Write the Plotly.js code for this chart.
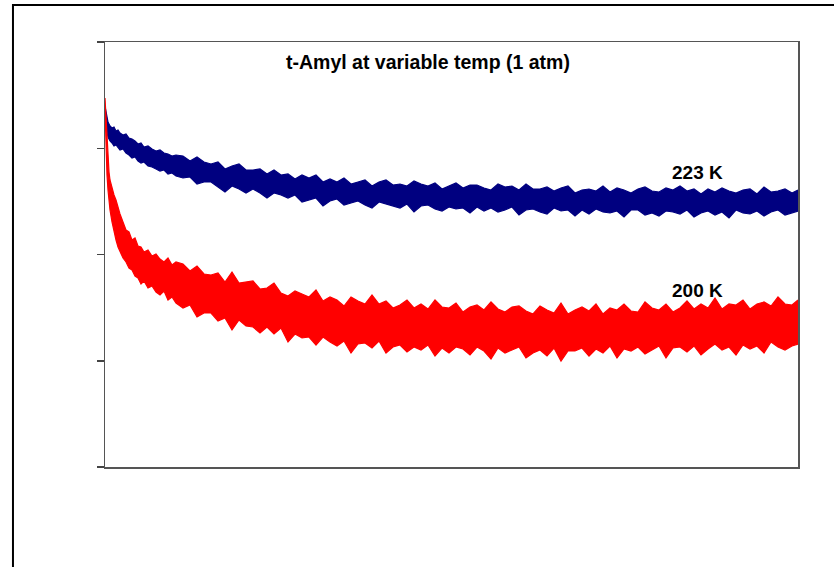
<!DOCTYPE html>
<html>
<head>
<meta charset="utf-8">
<script src="https://cdn.plot.ly/plotly-3.0.1.min.js"></script>
<style>
  html, body { margin: 0; padding: 0; background: #ffffff; }
  #chart { width: 834px; height: 567px; }
</style>
</head>
<body>
<div id="chart"></div>
<script>
// Time axis (arbitrary units, no labels shown in the original)
const time = [0,1,2,3,4,5,7,9,11,13,15,18,21,24,27,30,33,36,39,43,47,51,55,59,63,67,71,
  78,85,92,99,106,113,120,127,134,141,148,155,162,169,176,183,190,197,204,211,218,225,232,239,
  246,253,260,267,274,281,288,295,302,309,316,323,330,337,344,351,358,365,372,379,386,393,400,
  407,414,421,428,435,442,449,456,463,470,477,484,491,498,505,512,519,526,533,540,547,554,561,
  568,575,582,589,596,603,610,617,624,631,638,645,652,659,666,673,680,687,693];

// 223 K trace: upper and lower edge of the noise band (signal, arbitrary units)
const upper223 = [361,355,349,345,343,341,339,340,336,337,334,332,333,329,328,326,323,324,320,321,318,316,317,314,313,311,312,
  311,306,310,305,303,305,298,301,303,297,
  297,298,293,297,292,293,288,292,289,292,
  285,288,285,289,283,285,287,281,285,287,
  282,283,281,286,283,281,284,278,281,284,
  279,282,282,279,277,283,280,281,277,283,
  278,278,280,276,279,281,274,277,278,276,
  281,275,279,277,274,278,280,276,275,279,
  277,281,276,278,273,278,275,279,276,274,
  277,278,273,280,275,276,278,274,277];
const lower223 = [355,342,335,330,328,326,324,321,322,319,317,318,314,312,309,310,306,304,305,301,300,298,296,297,293,294,291,
  289,290,283,285,285,280,275,281,278,274,
  278,274,269,274,272,269,272,265,267,269,
  261,266,268,262,264,266,262,259,265,263,
  261,259,263,255,261,262,258,256,260,258,
  259,254,260,256,259,255,257,260,252,257,
  258,255,253,259,256,257,251,257,253,258,
  255,254,256,250,257,257,252,254,251,256,
  255,253,257,250,254,256,252,255,249,257,
  254,253,256,251,255,257,252,254,256];

// 200 K trace: upper and lower edge of the noise band
const upper200 = [369,352,327,307,295,287,279,272,267,259,253,245,237,235,227,229,221,220,215,217,211,213,208,205,209,202,205,
  203,196,201,193,192,194,185,195,184,185,
  186,178,179,184,174,171,176,173,170,177,
  166,170,167,161,170,166,163,172,163,166,
  159,162,167,159,163,158,167,160,159,164,
  155,160,162,157,165,158,155,160,161,156,
  153,161,157,154,164,153,157,160,156,163,
  153,159,157,163,156,155,165,159,157,163,
  155,159,166,158,163,159,169,158,163,162,
  167,158,163,165,161,170,163,162,167];
const lower200 = [357,317,292,277,267,257,245,235,227,220,215,209,205,199,197,191,189,183,186,179,181,175,172,176,167,170,164,
  159,162,150,154,154,146,149,137,147,141,
  140,134,140,133,139,125,133,129,130,122,
  130,125,121,126,114,123,124,119,126,114,
  120,122,115,120,117,122,111,119,114,120,
  118,112,120,116,108,119,114,117,120,109,
  114,117,111,119,106,116,116,119,111,118,
  114,121,109,118,116,120,113,117,121,109,
  119,120,115,121,112,118,123,117,120,112,
  122,118,121,114,125,120,117,121,123];

const chartTitle = 't-Amyl at variable temp (1 atm)';
const seriesLabels = ['223 K', '200 K'];
const labelPos = [[592, 295], [592, 177]];
const yTicks = [0, 106.25, 212.5, 318.75, 425];

const BLUE = '#000080';
const RED = '#ff0000';
const FONT = '"Liberation Sans", Arial, Helvetica, sans-serif';

function edge(y, color, filled) {
  const t = {x: time, y: y, type: 'scatter', mode: 'lines',
    line: {color: color, width: 1.2}, hoverinfo: 'skip', showlegend: false};
  if (filled) { t.fill = 'tonexty'; t.fillcolor = color; }
  return t;
}

const traces = [
  edge(lower223, BLUE, false),
  edge(upper223, BLUE, true),
  edge(lower200, RED, false),
  edge(upper200, RED, true)
];

const layout = {
  width: 834, height: 567,
  margin: {l: 105, r: 36, t: 42, b: 100, pad: 0},
  paper_bgcolor: '#ffffff', plot_bgcolor: '#ffffff',
  font: {family: FONT, color: '#000000'},
  showlegend: false,
  xaxis: {
    range: [0, 693], showgrid: false, zeroline: false, showticklabels: false, ticks: '',
    showline: true, mirror: true, linecolor: '#555555', linewidth: 1.5, fixedrange: true
  },
  yaxis: {
    range: [0, 425], tickmode: 'array', tickvals: yTicks, showticklabels: false,
    ticks: 'outside', ticklen: 7, tickwidth: 1.5, tickcolor: '#444444',
    showgrid: false, zeroline: false,
    showline: true, mirror: true, linecolor: '#555555', linewidth: 1.5, fixedrange: true
  },
  annotations: [
    {text: '<b>' + chartTitle + '</b>', xref: 'paper', yref: 'paper', x: 0.4654, y: 0.954,
     xanchor: 'center', yanchor: 'middle', showarrow: false, font: {family: FONT, size: 19.5, color: '#000'}},
    {text: '<b>' + seriesLabels[0] + '</b>', xref: 'x', yref: 'y', x: labelPos[0][0], y: labelPos[0][1],
     xanchor: 'center', yanchor: 'middle', showarrow: false, font: {family: FONT, size: 19, color: '#000'}},
    {text: '<b>' + seriesLabels[1] + '</b>', xref: 'x', yref: 'y', x: labelPos[1][0], y: labelPos[1][1],
     xanchor: 'center', yanchor: 'middle', showarrow: false, font: {family: FONT, size: 19, color: '#000'}}
  ],
  shapes: [
    {type: 'rect', xref: 'paper', yref: 'paper', x0: -0.1328, x1: 1.07, y0: -0.26, y1: 1.0871,
     line: {color: '#000000', width: 2}, fillcolor: 'rgba(0,0,0,0)', layer: 'below'}
  ]
};

Plotly.newPlot('chart', traces, layout, {displayModeBar: false, staticPlot: true});
</script>
</body>
</html>
